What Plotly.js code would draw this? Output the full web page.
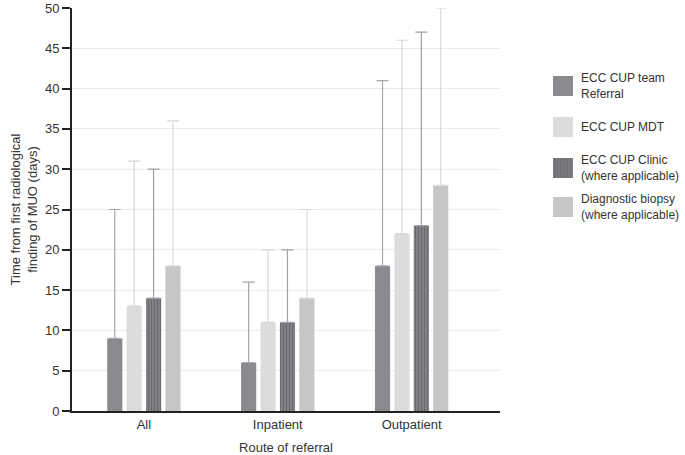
<!DOCTYPE html>
<html><head><meta charset="utf-8">
<script src="https://cdn.plot.ly/plotly-3.0.1.min.js"></script>
<style>html,body{margin:0;padding:0;background:#fff}#c{width:685px;height:455px}</style>
</head><body><div id="c"></div>
<script>
var categories = ["All", "Inpatient", "Outpatient"];
var seriesNames = ["ECC CUP team<br>Referral", "ECC CUP MDT", "ECC CUP Clinic<br>(where applicable)", "Diagnostic biopsy<br>(where applicable)"];
var referral = [9, 6, 18];
var referralUpper = [25, 16, 41];
var mdt = [13, 11, 22];
var mdtUpper = [31, 20, 46];
var clinic = [14, 11, 23];
var clinicUpper = [30, 20, 47];
var biopsy = [18, 14, 28];
var biopsyUpper = [36, 25, 50];
var yTicks = [0, 5, 10, 15, 20, 25, 30, 35, 40, 45, 50];

function diff(up, v){ return up.map(function(u,i){ return u - v[i]; }); }

var colors = ["#8a8b8f", "#dcdcdd", "#808185", "#c5c6c8"];
var errColors = ["#a8a8a8", "#d6d6d6", "#a0a0a0", "#dadada"];
var vals = [referral, mdt, clinic, biopsy];
var ups = [referralUpper, mdtUpper, clinicUpper, biopsyUpper];

var traces = vals.map(function(v, k){
  var t = {
    type: "bar", x: categories, y: v, name: seriesNames[k], showlegend: false,
    marker: {color: colors[k], line: {width: 0}},
    error_y: {type: "data", array: diff(ups[k], v), arrayminus: v.map(function(){return 0;}),
              symmetric: false, color: errColors[k], thickness: 1.2, width: 6}
  };
  if (k === 2) {
    t.marker.pattern = {shape: "|", bgcolor: "#85868a", fgcolor: "#6a6b6f", size: 3, solidity: 0.45};
  }
  return t;
});

// manual legend (pixel layout converted to paper coords)
var T = 8, L = 72, W = 428, B = 411, H = B - T;
function px(x){ return (x - L) / W; }
function py(y){ return (B - y) / H; }
var swTop = [76, 117, 158, 197];
var swFill = ["#8a8b8f", "#dcdcdd", "#7c7d81", "#c5c6c8"];
var shapes = [], annotations = [];
for (var k = 0; k < 4; k++) {
  shapes.push({type: "rect", xref: "paper", yref: "paper",
    x0: px(553), x1: px(573), y0: py(swTop[k] + 20), y1: py(swTop[k]),
    fillcolor: swFill[k], line: {width: 0}});
  if (k === 2) {
    for (var s = 555; s < 573; s += 3) {
      shapes.push({type: "line", xref: "paper", yref: "paper",
        x0: px(s), x1: px(s), y0: py(swTop[k] + 20), y1: py(swTop[k]),
        line: {color: "#6a6b6f", width: 1}});
    }
  }
  annotations.push({xref: "paper", yref: "paper", x: px(579), y: py(swTop[k] + 10),
    xanchor: "left", yanchor: "middle", align: "left", showarrow: false,
    text: seriesNames[k], font: {size: 12, color: "#333"}});
}

var layout = {
  width: 685, height: 455,
  margin: {l: 72, r: 185, t: T, b: 44},
  paper_bgcolor: "#fff", plot_bgcolor: "#fff",
  font: {family: "Liberation Sans, Arial, sans-serif", size: 13, color: "#333"},
  barmode: "group", bargap: 0.42, bargroupgap: 0.22,
  xaxis: {
    range: [-0.537, 2.66], showline: true, linecolor: "#222", linewidth: 2,
    ticks: "", showgrid: false, zeroline: false,
    tickfont: {size: 13, color: "#333"},
    title: {text: "Route of referral", font: {size: 13, color: "#333"}, standoff: 14}
  },
  yaxis: {
    range: [0, 50], tickvals: yTicks, ticktext: yTicks.map(String),
    showline: true, linecolor: "#222", linewidth: 2,
    ticks: "outside", ticklen: 8, tickwidth: 2, tickcolor: "#222",
    showgrid: true, gridcolor: "#ececec", gridwidth: 1, zeroline: false,
    tickfont: {size: 13, color: "#333"},
    title: {text: "Time from first radiological<br>finding of MUO (days)", font: {size: 13, color: "#333"}, standoff: 4}
  },
  showlegend: false,
  shapes: shapes,
  annotations: annotations
};

Plotly.newPlot("c", traces, layout, {displayModeBar: false, staticPlot: true});
</script></body></html>
